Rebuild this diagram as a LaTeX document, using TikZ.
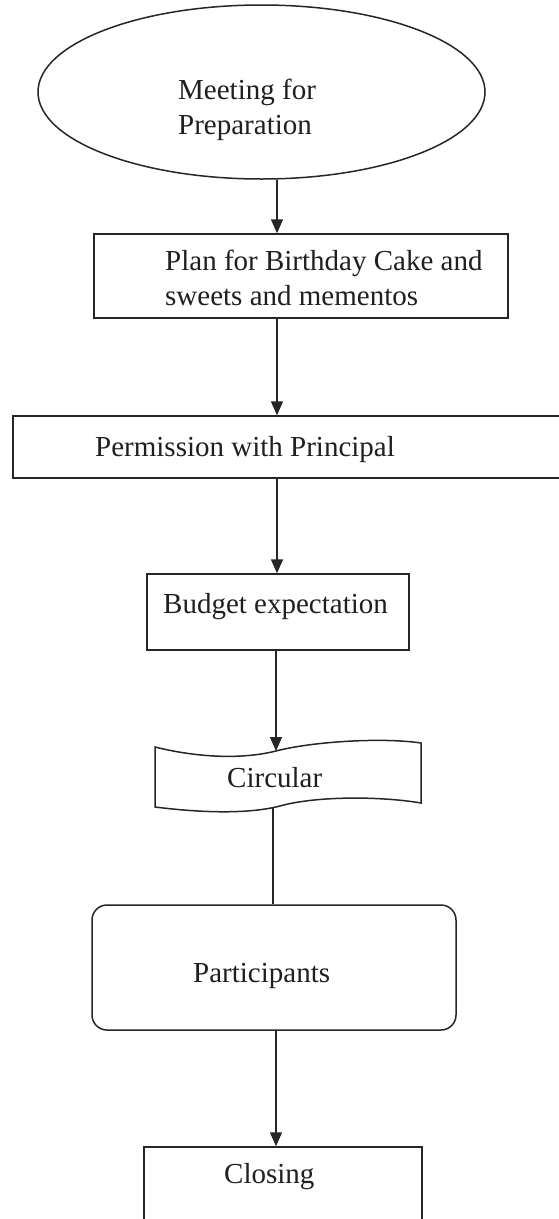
\documentclass[tikz,border=0pt]{standalone}
\usepackage{fontspec}
\setmainfont{Liberation Serif}
\usetikzlibrary{shapes.geometric,arrows.meta}
\begin{document}
\begin{tikzpicture}[x=1pt,y=-1pt,
  ln/.style={draw=black!85,line width=1.5pt},
  arr/.style={ln,-{Triangle[width=12pt,length=14pt]}},
  box/.style={ln,rectangle,inner sep=0pt},
  txt/.style={inner sep=0pt,text=black!88,font=\fontsize{29}{35}\selectfont}]
\useasboundingbox (0,0) rectangle (559,1219);
\clip (0,0) rectangle (559,1219);
\fill[white] (0,0) rectangle (559,1219);
% ellipse
\node[ln,ellipse,inner sep=0pt,minimum width=447,minimum height=174] (meet) at (261.5,92) {};
\node[txt,align=left,anchor=west] (meett) at (178,109.5) {Meeting for\\Preparation};
% plan
\node[box,minimum width=414,minimum height=84] (plan) at (301,276) {};
\node[txt,align=left,anchor=west] (plant) at (165,278) {Plan for Birthday Cake and\\sweets and mementos};
% permission
\node[box,minimum width=587,minimum height=62] (perm) at (306.5,447) {};
\node[txt,anchor=base west] (permt) at (95,456) {Permission with Principal};
% budget
\node[box,minimum width=262,minimum height=76] (budget) at (278,612) {};
\node[txt,anchor=base west] (budgett) at (163,613) {Budget expectation};
% circular (wavy document)
\draw[ln] (155,747) .. controls (195,757) and (240,760) .. (276,751)
  .. controls (310,742) and (380,737) .. (421,743) -- (421,803)
  .. controls (380,796) and (315,796) .. (280,806)
  .. controls (245,815) and (195,812) .. (155,807) -- cycle;
\node[txt,anchor=base west] (circ) at (227,787) {Circular};
\coordinate (ctop) at (276,751);
\coordinate (cbot) at (273,807);
% participants
\node[box,rounded corners=15pt,minimum width=364,minimum height=125] (parts) at (274,967.5) {};
\node[txt,anchor=base west] (partst) at (193,982) {Participants};
% closing
\node[box,minimum width=278,minimum height=86] (closing) at (283,1190) {};
\node[txt,anchor=base west] (closingt) at (224,1183) {Closing};
% connectors
\draw[arr] ([xshift=15.5]meet.south) -- ([xshift=-24]plan.north);
\draw[arr] ([xshift=-24]plan.south) -- ([xshift=-29.5]perm.north);
\draw[arr] ([xshift=-29.5]perm.south) -- ([xshift=-1]budget.north);
\draw[arr] ([xshift=-2]budget.south) -- (ctop);
\draw[ln] (cbot) -- ([xshift=-1]parts.north);
\draw[arr] ([xshift=2]parts.south) -- ([xshift=-7]closing.north);
\end{tikzpicture}
\end{document}
